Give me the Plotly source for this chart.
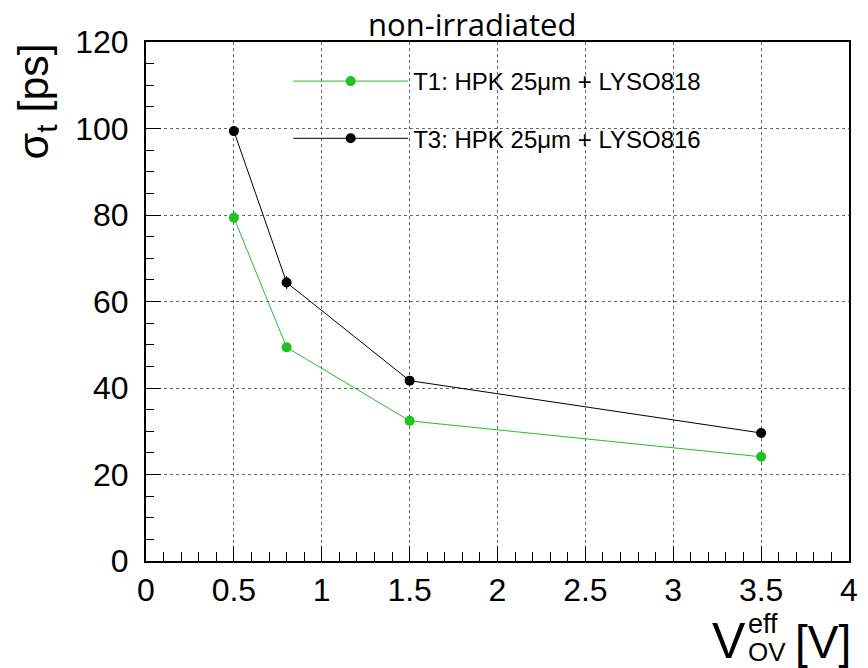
import plotly.graph_objects as go

# Data
v_ov = [0.5, 0.8, 1.5, 3.5]
t1_sigma = [79.4, 49.4, 32.4, 24.1]
t3_sigma = [99.4, 64.4, 41.7, 29.6]
t1_err = [1.5, 1.0, 0.6, 0.5]
t3_err = [1.0, 1.5, 0.6, 0.5]
t1_name = "T1: HPK 25\u03bcm + LYSO818"
t3_name = "T3: HPK 25\u03bcm + LYSO816"

W, H = 868, 668
L, R, T, B = 146, 10, 42, 107
pw, ph = W - L - R, H - T - B

def px(xp):
    return (xp - L) / pw

def py(yp):
    return (H - B - yp) / ph

GREEN = "#1fc21f"
FONT = "Liberation Sans, Arial, sans-serif"

fig = go.Figure()
fig.add_trace(go.Scatter(
    x=v_ov, y=t1_sigma, name=t1_name, mode="lines+markers",
    line=dict(color=GREEN, width=1),
    marker=dict(color=GREEN, size=10, symbol="circle"),
    error_y=dict(type="data", array=t1_err, color=GREEN, thickness=1, width=0),
    legendgroup="t1",
))
fig.add_trace(go.Scatter(
    x=v_ov, y=t3_sigma, name=t3_name, mode="lines+markers",
    line=dict(color="black", width=1),
    marker=dict(color="black", size=10, symbol="circle"),
    error_y=dict(type="data", array=t3_err, color="black", thickness=1, width=0),
    legendgroup="t3",
))

grid = dict(showgrid=True, gridcolor="#666666", gridwidth=1, griddash="dot")

fig.update_xaxes(
    range=[0, 4], dtick=0.5, tick0=0, ticks="inside", ticklen=15, tickwidth=1,
    tickcolor="black", showline=True, linecolor="black", linewidth=2, mirror=True,
    tickfont=dict(family=FONT, size=32, color="black"), zeroline=False,
    minor=dict(dtick=0.1, ticks="inside", ticklen=9, tickcolor="black", showgrid=False),
    ticklabelstandoff=0,
    **grid,
)
fig.update_yaxes(
    range=[0, 120], dtick=20, tick0=0, ticks="inside", ticklen=15, tickwidth=1,
    tickcolor="black", showline=True, linecolor="black", linewidth=2, mirror=True,
    tickfont=dict(family=FONT, size=32, color="black"), zeroline=False,
    minor=dict(dtick=5, ticks="inside", ticklen=8, tickcolor="black", showgrid=False),
    ticklabelstandoff=9,
    **grid,
)

ann = []
ann.append(dict(text="non-irradiated", x=px(476), y=py(24), xref="paper", yref="paper",
                xanchor="center", yanchor="middle", showarrow=False,
                font=dict(family="Open Sans, sans-serif", size=31, color="black")))
ann.append(dict(text="\u03c3<sub>t</sub> [ps]", x=px(35), y=py(101), xref="paper", yref="paper",
                xanchor="center", yanchor="middle", textangle=-90, showarrow=False,
                font=dict(family=FONT, size=43, color="black")))
ann.append(dict(text="V", x=px(756), y=py(641), xref="paper", yref="paper",
                xanchor="right", yanchor="middle", showarrow=False,
                font=dict(family=FONT, size=50, color="black")))
ann.append(dict(text="eff", x=px(754), y=py(624), xref="paper", yref="paper",
                xanchor="left", yanchor="middle", showarrow=False,
                font=dict(family=FONT, size=27, color="black")))
ann.append(dict(text="OV", x=px(754), y=py(652), xref="paper", yref="paper",
                xanchor="left", yanchor="middle", showarrow=False,
                font=dict(family=FONT, size=26, color="black")))
ann.append(dict(text="[V]", x=px(832), y=py(642), xref="paper", yref="paper",
                xanchor="center", yanchor="middle", showarrow=False,
                font=dict(family=FONT, size=46, color="black")))

fig.update_layout(
    width=W, height=H,
    margin=dict(l=L, r=R, t=T, b=B, pad=0),
    plot_bgcolor="white", paper_bgcolor="white",
    showlegend=True,
    legend=dict(x=px(290), y=py(59), xanchor="left", yanchor="top",
                bgcolor="rgba(255,255,255,0)", borderwidth=0,
                font=dict(family=FONT, size=24, color="black"),
                itemwidth=115, tracegroupgap=23, traceorder="grouped"),
    annotations=ann,
)

fig.write_html("out.html")
